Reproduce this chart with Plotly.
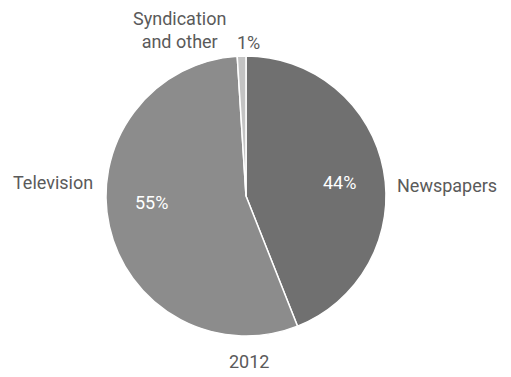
import plotly.graph_objects as go

categories = ["Newspapers", "Television", "Syndication and other"]
values = [44, 55, 1]
colors = ["#707070", "#8c8c8c", "#c4c4c4"]
title_text = "2012"

FONT = "Roboto, Arial, sans-serif"
total = sum(values)
pct = [f"{round(v / total * 100)}%" for v in values]

fig = go.Figure(go.Pie(
    labels=categories,
    values=values,
    sort=False,
    direction="clockwise",
    rotation=0,
    marker=dict(colors=colors, line=dict(color="white", width=1.5)),
    textinfo="none",
    showlegend=False,
    hoverinfo="label+percent",
    domain=dict(x=[0.2074, 0.7554], y=[0.1088, 0.8515]),
))

txt = dict(family=FONT, size=18, color="#5a5a5a")
white = dict(family=FONT, size=18, color="white")


def note(x, y, text, font, xanchor="center", align="center"):
    fig.add_annotation(x=x, y=y, xref="paper", yref="paper", text=text,
                       showarrow=False, font=font, xanchor=xanchor,
                       yanchor="middle", align=align)


# outside labels
note(0.186, 0.515, categories[1], txt, xanchor="right")
note(0.773, 0.509, categories[0], txt, xanchor="left")
note(0.352, 0.920, "Syndication<br>and other", txt)
note(0.487, 0.886, pct[2], txt)
# inside percentages
note(0.665, 0.515, pct[0], white)
note(0.297, 0.464, pct[1], white)
# title at the bottom
note(0.488, 0.042, title_text, txt)

fig.update_layout(
    width=511, height=377,
    margin=dict(l=0, r=0, t=0, b=0),
    paper_bgcolor="white", plot_bgcolor="white",
)
fig.write_html("out.html")
